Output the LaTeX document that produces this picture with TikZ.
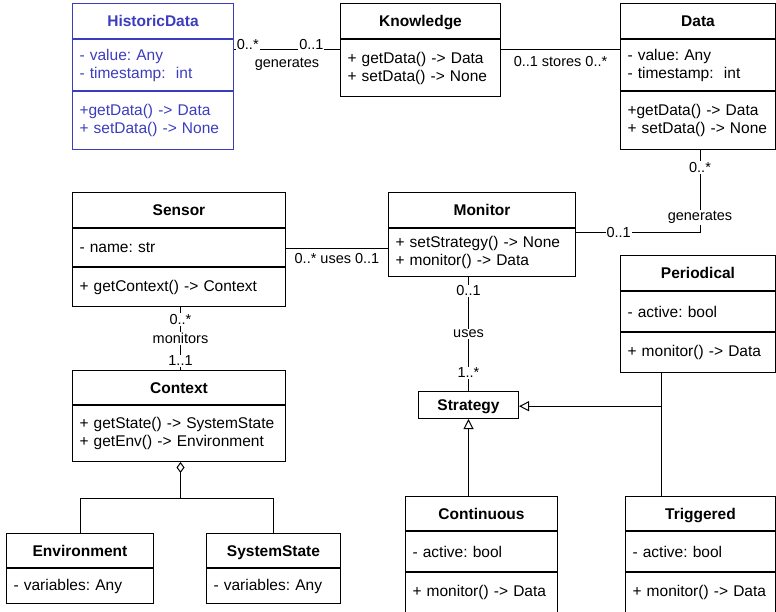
\documentclass[tikz,border=0pt]{standalone}
\usepackage{fontspec}
\setmainfont{Liberation Sans}
\usetikzlibrary{positioning,arrows.meta}
\definecolor{histblue}{RGB}{60,60,190}

\tikzset{
  clsname/.style={draw, line width=1pt, anchor=north west, inner sep=0pt, font=\bfseries, text height=14pt, text depth=3pt},
  comp/.style={draw, line width=1pt, anchor=north west, inner xsep=7pt, inner ysep=0pt, align=left},
  mult/.style={fill=white, inner sep=1pt, font=\fontsize{14.5}{16}\selectfont},
  link/.style={line width=1pt},
  isa/.style={line width=1pt, -{Triangle[open, length=10pt, width=10pt]}},
  hasa/.style={line width=1pt, {Diamond[open, length=11pt, width=8pt]}-},
}

\begin{document}
\frenchspacing
\fontsize{15.5}{18}\selectfont
\begin{tikzpicture}[x=1pt, y=-1pt]
\useasboundingbox (0,0) rectangle (776,612);

% top row
\node[clsname, draw=histblue, text=histblue, minimum width=161pt, minimum height=35pt] (hd) at (72,3) {HistoricData};
\node[comp, draw=histblue, text=histblue, text width=147pt, minimum height=51pt] (hdattr) at (hd.south west) {- value: Any\\- timestamp:~~int};
\node[comp, draw=histblue, text=histblue, text width=147pt, minimum height=58pt] (hdmeth) at (hdattr.south west) {+getData() -> Data\\+ setData() -> None};

\node[clsname, minimum width=160pt, minimum height=35pt] (kn) at (340,3) {Knowledge};
\node[comp, text width=146pt, minimum height=57pt] (knmeth) at (kn.south west) {+ getData() -> Data\\+ setData() -> None};

\node[clsname, minimum width=155pt, minimum height=35pt] (data) at (620,3) {Data};
\node[comp, text width=141pt, minimum height=51pt] (dataattr) at (data.south west) {- value: Any\\- timestamp:~~int};
\node[comp, text width=141pt, minimum height=58pt] (datameth) at (dataattr.south west) {+getData() -> Data\\+ setData() -> None};

% middle
\node[clsname, minimum width=213pt, minimum height=35pt] (sen) at (72,192) {Sensor};
\node[comp, text width=199pt, minimum height=38pt] (senattr) at (sen.south west) {- name: str};
\node[comp, text width=199pt, minimum height=39pt] (senmeth) at (senattr.south west) {+ getContext() -> Context};

\node[clsname, minimum width=187pt, minimum height=35pt] (mon) at (388,192) {Monitor};
\node[comp, text width=173pt, minimum height=48pt] (monmeth) at (mon.south west) {+ setStrategy() -> None\\+ monitor() -> Data};

\node[clsname, minimum width=155pt, minimum height=35pt] (per) at (620,255) {Periodical};
\node[comp, text width=141pt, minimum height=40pt] (perattr) at (per.south west) {- active: bool};
\node[comp, text width=141pt, minimum height=40pt] (permeth) at (perattr.south west) {+ monitor() -> Data};

\node[clsname, minimum width=213pt, minimum height=34pt] (ctx) at (72,370) {Context};
\node[comp, text width=199pt, minimum height=56pt] (ctxmeth) at (ctx.south west) {+ getState() -> SystemState\\+ getEnv() -> Environment};

\node[clsname, minimum width=100pt, minimum height=27pt] (strat) at (418,391) {Strategy};

% bottom row
\node[clsname, minimum width=147pt, minimum height=34pt] (env) at (6,533) {Environment};
\node[comp, text width=133pt, minimum height=35pt] (envattr) at (env.south west) {- variables: Any};

\node[clsname, minimum width=134pt, minimum height=34pt] (sys) at (206,533) {SystemState};
\node[comp, text width=120pt, minimum height=35pt] (sysattr) at (sys.south west) {- variables: Any};

\node[clsname, minimum width=152pt, minimum height=34pt] (cont) at (405,496) {Continuous};
\node[comp, text width=138pt, minimum height=40pt] (contattr) at (cont.south west) {- active: bool};
\node[comp, text width=138pt, minimum height=40pt] (contmeth) at (contattr.south west) {+ monitor() -> Data};

\node[clsname, minimum width=150pt, minimum height=34pt] (trig) at (625,496) {Triggered};
\node[comp, text width=136pt, minimum height=40pt] (trigattr) at (trig.south west) {- active: bool};
\node[comp, text width=136pt, minimum height=40pt] (trigmeth) at (trigattr.south west) {+ monitor() -> Data};

% associations
\draw[link] ([yshift=-11pt]hdattr.north east) -- ([yshift=-11pt]knmeth.north west)
  node[mult, pos=0.13, yshift=5pt] (hdmany) {0..*}
  node[mult, pos=0.73, yshift=5pt] (knone) {0..1}
  node[mult, pos=0.5, yshift=-14pt] (hdgen) {generates};
\draw[link] ([yshift=-11pt]knmeth.north east) -- ([yshift=-11pt]dataattr.north west)
  node[mult, pos=0.5, yshift=-12pt] (stores) {0..1 stores 0..*};
\draw[link] ([xshift=2pt]datameth.south) |- ([yshift=-5pt]monmeth.north east)
  node[mult, pos=0.106] (datamany) {0..*}
  node[mult, pos=0.406] (mongen) {generates}
  node[mult, pos=0.828] (monone) {0..1};
\draw[link] ([yshift=-21pt]senattr.north east) -- ([yshift=-21pt]monmeth.north west)
  node[mult, pos=0.5, yshift=-10pt] (senuses) {0..* uses 0..1};
\draw[link] ([xshift=1.5pt]senmeth.south) -- ([xshift=1.5pt]ctx.north)
  node[mult, pos=0.2] (senmany) {0..*}
  node[mult, pos=0.5] (senmon) {monitors}
  node[mult, pos=0.85] (ctxone) {1..1};
\draw[link] (monmeth.south -| strat.north) -- (strat.north)
  node[mult, pos=0.12] (monuse) {0..1}
  node[mult, pos=0.5] (monuses) {uses}
  node[mult, pos=0.84] (stratmany) {1..*};

% aggregation
\draw[hasa] ([xshift=1.5pt]ctxmeth.south) -- ++(0,36) coordinate (split) -| (env.north);
\draw[link] (split) -| (sys.north);

% inheritance
\draw[isa] (cont.north -| strat.south) -- (strat.south);
\draw[link] ([xshift=-37pt]permeth.south) -- ([xshift=-37pt]permeth.south |- trig.north) coordinate[pos=0.27] (join);
\draw[isa] (join) -- (join -| strat.east);
\end{tikzpicture}
\end{document}
